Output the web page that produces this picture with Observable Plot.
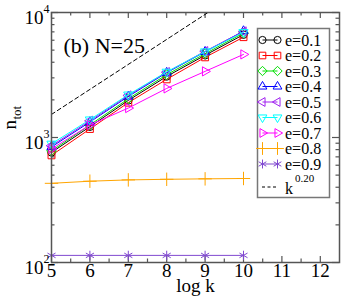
<!DOCTYPE html>
<html><head><meta charset="utf-8">
<script src="https://cdn.jsdelivr.net/npm/d3@7"></script>
<script src="https://cdn.jsdelivr.net/npm/@observablehq/plot@0.6"></script>
<style>body{margin:0;background:#fff}#chart{width:341px;height:303px}</style>
</head><body><div id="chart"></div>
<script>
const logK = [5, 6, 7, 8, 9, 10];
const seriesNames = ["e=0.1","e=0.2","e=0.3","e=0.4","e=0.5","e=0.6","e=0.7","e=0.8","e=0.9"];
const e01 = [760, 1220, 1980, 3080, 4550, 6650];
const e02 = [720, 1170, 1900, 2920, 4380, 6350];
const e03 = [780, 1260, 2040, 3180, 4680, 6850];
const e04 = [840, 1330, 2130, 3300, 4850, 7100];
const e05 = [860, 1360, 2170, 3330, 4900, 7050];
const e06 = [890, 1390, 2200, 3350, 4870, 6950];
const e07 = [810, 1260, 1720, 2470, 3380, 4620];
const e08 = [430, 447, 458, 463, 467, 470];
const e09 = [114, 114, 114, 114, 114, 114];
const seriesValues = [e01, e02, e03, e04, e05, e06, e07, e08, e09];
const colors = ["#000000","#ff0000","#00e000","#0000ff","#a020f0","#00ffff","#ff00ff","#ffa500","#8048d0"];
const symbols = ["circle","square2","diamond2","triangle2","triangle2","triangle2","triangle2","plus","asterisk"];
const rotations = [0, 0, 0, 0, -90, 180, 90, 0, 0];
const refLabel = "0.20";
const refX = [5, 10];
const refY = [1530, 15300];
const xMajor = [5, 6, 7, 8, 9, 10, 11, 12];
const xMinor = [5.5, 6.5, 7.5, 8.5, 9.5, 10.5, 11.5];
const yMajor = [100, 1000, 10000];
const yMinor = [200,300,400,500,600,700,800,900,2000,3000,4000,5000,6000,7000,8000,9000];

const W = 341, H = 303, mL = 51, mR = 2, mT = 12, mB = 41;
const fw = W - mL - mR, fh = H - mT - mB;
const axisColor = "#555";
const serif = "'Liberation Serif','Times New Roman',serif";

const marks = [];
marks.push(Plot.ruleX(xMajor, {x: d => d, insetTop: fh - 6, stroke: axisColor, strokeWidth: 1.2}));
marks.push(Plot.ruleX(xMajor, {x: d => d, insetBottom: fh - 6, stroke: axisColor, strokeWidth: 1.2}));
marks.push(Plot.ruleX(xMinor, {x: d => d, insetTop: fh - 3.5, stroke: axisColor, strokeWidth: 1.2}));
marks.push(Plot.ruleX(xMinor, {x: d => d, insetBottom: fh - 3.5, stroke: axisColor, strokeWidth: 1.2}));
marks.push(Plot.ruleY(yMajor, {y: d => d, insetRight: fw - 7, stroke: axisColor, strokeWidth: 1.2}));
marks.push(Plot.ruleY(yMajor, {y: d => d, insetLeft: fw - 7, stroke: axisColor, strokeWidth: 1.2}));
marks.push(Plot.ruleY(yMinor, {y: d => d, insetRight: fw - 3.5, stroke: axisColor, strokeWidth: 1.2}));
marks.push(Plot.ruleY(yMinor, {y: d => d, insetLeft: fw - 3.5, stroke: axisColor, strokeWidth: 1.2}));

const refRows = refX.map((x, i) => ({k: x, n: refY[i]}));
marks.push(Plot.line(refRows, {x: "k", y: "n", stroke: "black", strokeWidth: 1, strokeDasharray: "4,3", clip: true}));

seriesValues.forEach((vals, i) => {
  const rows = vals.map((v, j) => ({k: logK[j], n: v}));
  marks.push(Plot.line(rows, {x: "k", y: "n", stroke: colors[i], strokeWidth: 1}));
  marks.push(Plot.dot(rows, {x: "k", y: "n", symbol: symbols[i], r: symbols[i] === "circle" ? 3.8 : 4.4, rotate: rotations[i], stroke: colors[i], fill: "none", strokeWidth: 1}));
});

marks.push(Plot.frame({stroke: axisColor, strokeWidth: 1.5}));

marks.push(Plot.text(xMajor, {x: d => d, text: d => String(d), frameAnchor: "bottom", dy: 14, fontSize: 19, fill: "black"}));
marks.push(Plot.text(yMajor, {y: d => d, text: () => "10", frameAnchor: "left", textAnchor: "end", dx: -8, dy: 5, fontSize: 19, fill: "black"}));
marks.push(Plot.text(yMajor, {y: d => d, text: d => String(Math.round(Math.log10(d))), frameAnchor: "left", textAnchor: "start", dx: -8, dy: -3, fontSize: 12, fill: "black"}));
marks.push(Plot.text(["log k"], {text: d => d, frameAnchor: "bottom", dy: 29, fontSize: 19, fill: "black"}));
marks.push(Plot.text(["n"], {text: d => d, frameAnchor: "left", rotate: -90, textAnchor: "start", dx: -42, dy: -8, fontSize: 19, fill: "black"}));
marks.push(Plot.text(["tot"], {text: d => d, frameAnchor: "left", rotate: -90, textAnchor: "start", dx: -35, dy: -18, fontSize: 13, fill: "black"}));
marks.push(Plot.text(["(b) N=25"], {text: d => d, frameAnchor: "top-left", textAnchor: "start", dx: 12, dy: 25, fontSize: 22, fill: "black"}));

const plot = Plot.plot({
  width: W, height: H,
  marginLeft: mL, marginRight: mR, marginTop: mT, marginBottom: mB,
  x: {domain: [5, 12.5], axis: null},
  y: {type: "log", domain: [100, 10000], axis: null},
  style: {fontFamily: serif, background: "white", overflow: "visible"},
  marks
});

const svg = d3.select(plot);
const g = svg.append("g").attr("font-family", serif).attr("text-anchor", "start");
g.append("rect").attr("x", 257.5).attr("y", 28.5).attr("width", 72).attr("height", 169)
  .attr("fill", "white").attr("stroke", "#777").attr("stroke-width", 1.5);
const symMap = {circle: d3.symbolCircle, square2: d3.symbolSquare2, diamond2: d3.symbolDiamond2, triangle2: d3.symbolTriangle2, plus: d3.symbolPlus, asterisk: d3.symbolAsterisk};
seriesNames.forEach((name, i) => {
  const cy = 40 + i * 15.5;
  g.append("line").attr("x1", 262.5).attr("x2", 277.5).attr("y1", cy).attr("y2", cy).attr("stroke", colors[i]);
  const r = symbols[i] === "circle" ? 3.6 : 4.2;
  const p = d3.symbol(symMap[symbols[i]], Math.PI * r * r)();
  [262.5, 277.5].forEach(x => {
    g.append("path").attr("d", p).attr("transform", `translate(${x},${cy}) rotate(${rotations[i]})`)
      .attr("fill", "none").attr("stroke", colors[i]);
  });
  g.append("text").attr("x", 285).attr("y", cy + 5.5).attr("font-size", 16).attr("text-anchor", "start").text(name);
});
g.append("line").attr("x1", 262).attr("x2", 277).attr("y1", 187).attr("y2", 187).attr("stroke", "black").attr("stroke-dasharray", "3,2.5");
g.append("text").attr("x", 285).attr("y", 194).attr("font-size", 16).attr("text-anchor", "start").text("k");
g.append("text").attr("x", 295).attr("y", 182).attr("font-size", 11).attr("text-anchor", "start").text(refLabel);

document.getElementById("chart").append(plot);
</script></body></html>
